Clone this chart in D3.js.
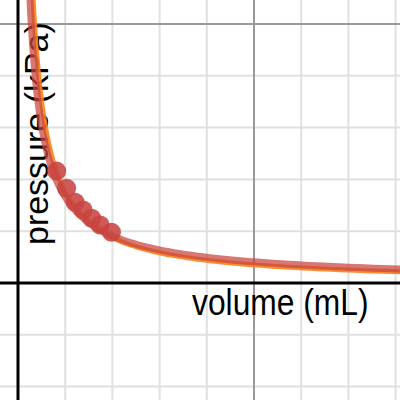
<!DOCTYPE html>
<html>
<head>
<meta charset="utf-8">
<script src="https://cdn.jsdelivr.net/npm/d3@7"></script>
<style>
  body { margin: 0; background: #fff; }
  svg { display: block; }
</style>
</head>
<body>
<script>
// measured points (volume in mL, pressure in kPa)
var volume = [8.2, 10.3, 12.1, 13.8, 15.6, 17.4, 19.8];
var pressure = [216, 183, 156, 141, 125, 112, 98];

// fitted curves P = a * V^b
var inverseFit = {a: 1750, b: -1};
var powerFit = {a: 1230, b: -0.87};

var xLabel = "volume (mL)";
var yLabel = "pressure (kPa)";

var width = 400, height = 400;

var x = d3.scaleLinear().domain([0, 50]).range([18, 254]);
var y = d3.scaleLinear().domain([0, 500]).range([283, 24]);

var svg = d3.select("body").append("svg")
    .attr("width", width)
    .attr("height", height);

// grid, minor every 10 / 100, major every 50 / 500
var xTicks = d3.range(-10, 90, 10);
var yTicks = d3.range(-300, 600, 100);

svg.append("g").selectAll("line")
  .data(xTicks.filter(function(d){ return d % 50 != 0; }))
  .enter().append("line")
    .attr("x1", function(d){ return x(d); })
    .attr("x2", function(d){ return x(d); })
    .attr("y1", 0).attr("y2", height)
    .attr("stroke", "#e0e0e0").attr("stroke-width", 2);

svg.append("g").selectAll("line")
  .data(yTicks.filter(function(d){ return d % 500 != 0; }))
  .enter().append("line")
    .attr("y1", function(d){ return y(d); })
    .attr("y2", function(d){ return y(d); })
    .attr("x1", 0).attr("x2", width)
    .attr("stroke", "#e0e0e0").attr("stroke-width", 2);

svg.append("line")
    .attr("x1", x(50)).attr("x2", x(50))
    .attr("y1", 0).attr("y2", height)
    .attr("stroke", "#999").attr("stroke-width", 2);
svg.append("line")
    .attr("y1", y(500)).attr("y2", y(500))
    .attr("x1", 0).attr("x2", width)
    .attr("stroke", "#999").attr("stroke-width", 2);

// axes
svg.append("line")
    .attr("x1", x(0)).attr("x2", x(0))
    .attr("y1", 0).attr("y2", height)
    .attr("stroke", "#000").attr("stroke-width", 3);
svg.append("line")
    .attr("y1", y(0)).attr("y2", y(0))
    .attr("x1", 0).attr("x2", width)
    .attr("stroke", "#000").attr("stroke-width", 3);

// axis labels (picture is a bit stretched vertically)
svg.append("text")
    .attr("transform", "translate(192,315) scale(1,1.15)")
    .attr("font-family", "Liberation Sans, Arial, sans-serif")
    .attr("font-size", 31.8)
    .attr("fill", "#000")
    .text(xLabel);

svg.append("text")
    .attr("transform", "translate(48,245) scale(1,1.03) rotate(-90)")
    .attr("font-family", "Liberation Sans, Arial, sans-serif")
    .attr("font-size", 33)
    .attr("fill", "#000")
    .text(yLabel);

// curves
var vSamples = d3.range(0, 200).map(function(i){ return Math.pow(1.025, i); });

function curve(fit) {
  return d3.line()
    .x(function(v){ return x(v); })
    .y(function(v){ return y(fit.a * Math.pow(v, fit.b)); })(vSamples);
}

svg.append("path")
    .attr("d", curve(inverseFit))
    .attr("fill", "none")
    .attr("stroke", "#fa7e19")
    .attr("stroke-width", 5)
    .attr("opacity", 0.9);

svg.append("path")
    .attr("d", curve(powerFit))
    .attr("fill", "none")
    .attr("stroke", "#c74440")
    .attr("stroke-width", 7)
    .attr("opacity", 0.72);

// data points
var pts = volume.map(function(v, i){ return [v, pressure[i]]; });
svg.append("g").selectAll("circle")
  .data(pts)
  .enter().append("circle")
    .attr("cx", function(d){ return x(d[0]); })
    .attr("cy", function(d){ return y(d[1]); })
    .attr("r", 9.5)
    .attr("fill", "#c74440")
    .attr("opacity", 0.88);
</script>
</body>
</html>
